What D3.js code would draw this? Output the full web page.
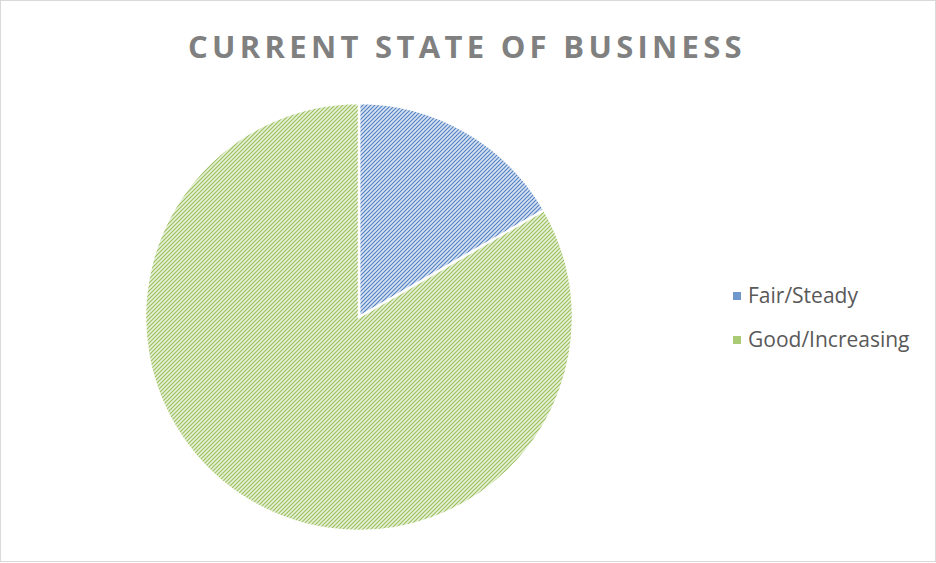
<!DOCTYPE html>
<html lang="en">

<head>
    <script src="https://d3js.org/d3.v7.min.js"></script>
    <style>
        body {
            margin: 0;
            background: white;
        }

        text {
            font-family: "Open Sans", "Liberation Sans", sans-serif;
        }
    </style>
</head>

<body>
    <svg id="chart" width="936" height="563"></svg>

    <script>
        // data
        const categories = ["Fair/Steady", "Good/Increasing"];
        const values = [1, 5];
        const darkColors = ["#5585c4", "#9cc15e"];
        const lightColors = ["#d8e2f2", "#e7f0d8"];

        const svg = d3.select("svg#chart");
        const width = +svg.attr("width");
        const height = +svg.attr("height");

        // chart border
        svg.append("rect")
            .attr("x", 0.5).attr("y", 0.5)
            .attr("width", width - 1).attr("height", height - 2)
            .attr("fill", "white")
            .attr("stroke", "#d9d9d9");

        // hatch patterns (wide upward diagonal)
        const defs = svg.append("defs");
        categories.forEach((c, i) => {
            let p = defs.append("pattern")
                .attr("id", "hatch" + i)
                .attr("patternUnits", "userSpaceOnUse")
                .attr("width", 4)
                .attr("height", 4);
            p.append("rect")
                .attr("width", 4).attr("height", 4)
                .attr("fill", lightColors[i]);
            p.append("path")
                .attr("d", "M-1,1 L1,-1 M0,4 L4,0 M3,5 L5,3")
                .attr("stroke", darkColors[i])
                .attr("stroke-width", 1.2);
        });

        // title
        svg.append("text")
            .attr("x", 467)
            .attr("y", 58)
            .attr("text-anchor", "middle")
            .attr("font-size", 31)
            .attr("font-weight", "bold")
            .attr("letter-spacing", 4.3)
            .attr("fill", "#808080")
            .text("CURRENT STATE OF BUSINESS");

        // pie
        const cx = 359, cy = 317, radius = 214;
        const pie = d3.pie().sort(null).value(d => d);
        const arc = d3.arc().innerRadius(0).outerRadius(radius);

        const g = svg.append("g")
            .attr("transform", `translate(${cx},${cy})`);

        g.selectAll("path.slice")
            .data(pie(values))
            .join("path")
            .attr("class", "slice")
            .attr("d", arc)
            .attr("fill", (d, i) => `url(#hatch${i})`)
            .attr("stroke", "white")
            .attr("stroke-width", 2.5)
            .attr("stroke-linejoin", "miter");

        // legend
        const legend = svg.append("g")
            .attr("transform", "translate(733,296)");

        let items = legend.selectAll("g.item")
            .data(categories)
            .join("g")
            .attr("class", "item")
            .attr("transform", (d, i) => `translate(0,${i * 44})`);

        items.append("rect")
            .attr("x", 0).attr("y", -4)
            .attr("width", 8).attr("height", 8)
            .attr("fill", (d, i) => darkColors[i])
            .attr("opacity", 0.85);

        items.append("text")
            .attr("x", 15)
            .attr("y", 0)
            .attr("dy", "0.35em")
            .attr("font-size", 21)
            .attr("fill", "#595959")
            .text(d => d);
    </script>
</body>

</html>
